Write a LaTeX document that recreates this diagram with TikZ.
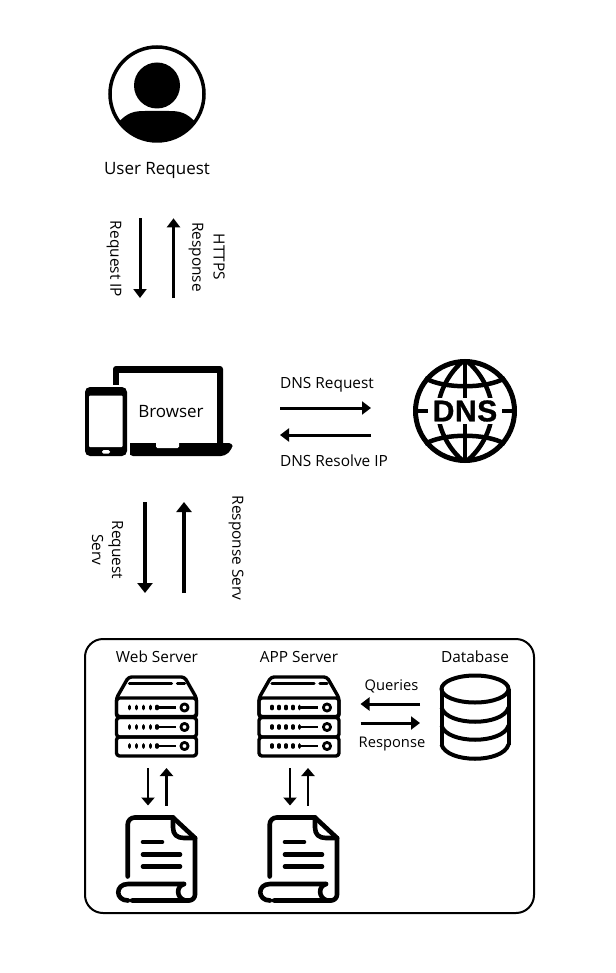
\documentclass[tikz,border=0pt]{standalone}
\usepackage{fontspec}
\setmainfont{Open Sans}
\newfontfamily\dnsfont[UprightFont=* Bold, FakeBold=1, LetterSpace=2]{Liberation Sans}
\usetikzlibrary{arrows.meta}
\usetikzlibrary{positioning}

\tikzset{
iconnode/.style={rectangle, inner sep=0pt, outer sep=0pt, minimum width=#1},
labelnode/.style={inner sep=0pt, font=\fontsize{17}{20}\selectfont},
smalllabel/.style={inner sep=0pt, font=\fontsize{15.4}{20}\selectfont},
arrowlabel/.style={inner sep=0pt, font=\fontsize{14.7}{20}\selectfont},
bigarrow/.style={line width=3.4pt, -{Triangle[width=15pt,length=10pt]}},
midarrow/.style={line width=3pt, -{Triangle[width=13pt,length=9pt]}},
thinarrow/.style={line width=2.3pt, -{Triangle[width=13pt,length=8pt]}},
pics/usericon/.style={code={
  \draw[line width=3.5pt] (0,0) circle (47);
  \fill (0,-8.5) circle (23);
  \begin{scope}
  \clip (0,0) circle (48);
  \fill (-40,30) .. controls (-30,18) and (-22,17) .. (-12,17) -- (12,17) .. controls (22,17) and (30,18) .. (40,30) -- (40,60) -- (-40,60) -- cycle;
  \end{scope}
}},
pics/browsericon/.style={code={
  % laptop
  \fill[rounded corners=3pt] (-46,42) -- (-46,-45) -- (64,-45) -- (64,42) -- cycle;
  \fill[white] (-40,-38.3) rectangle (58,32);
  \fill[rounded corners=4pt] (-30,32) -- (74,32) -- (73,38) -- (66,45) -- (-30,45) -- cycle;
  \fill[white, rounded corners=1.5pt] (-3,30) -- (-3,37) -- (20,37) -- (20,30) -- cycle;
  % phone
  \fill[white] (-76,-26) rectangle (-29,47);
  \fill[rounded corners=5pt] (-74,-24) rectangle (-32,45);
  \fill[white, rounded corners=1pt] (-70,-15.5) rectangle (-36.3,36);
  \fill[white, rounded corners=1.5pt] (-57,39) rectangle (-49,42.5);
}},
pics/dnsicon/.style={code={
  \draw[line width=5pt] (0,0) circle (49.5);
  \draw[line width=4.5pt] (0,-49) -- (0,49);
  \draw[line width=4.5pt] (-3,-49) .. controls (-19,-35) and (-27,-15) .. (-27,0) .. controls (-27,15) and (-19,35) .. (-3,49);
  \draw[line width=4.5pt] (3,-49) .. controls (19,-35) and (27,-15) .. (27,0) .. controls (27,15) and (19,35) .. (3,49);
  \draw[line width=4.5pt] (-40,-33) .. controls (-22,-22) and (22,-22) .. (40,-33);
  \draw[line width=4.5pt] (-40,33) .. controls (-22,22) and (22,22) .. (40,33);
  \fill[white] (-44,-13) rectangle (44,13);
  \draw[line width=4pt] (-48,0) -- (-37,0) (37,0) -- (48,0);
}},
pics/servericon/.style={code={
  \begin{scope}[line width=3.4pt, line join=round]
  \draw[rounded corners=3pt] (-40,-18.5) -- (-28,-39.5) -- (28,-39.5) -- (40,-18.5) -- (40,0) -- (-40,0) -- cycle;
  \draw[rounded corners=3pt] (-40,-18.5) rectangle (40,1);
  \draw[rounded corners=3pt] (-40,1) rectangle (40,20.5);
  \draw[rounded corners=3pt] (-40,20.5) rectangle (40,39.5);
  \draw[line cap=round] (-27,-33) -- (15,-33) (21,-33) -- (28,-33);
  \foreach \rowy in {-9,10.5,29.5} {
    \foreach \doty in {-27,-20,-13,-6,0.5}
      \draw[line width=3.2pt, line cap=round] (\doty,\rowy-1.2) -- (\doty,\rowy+1.2);
    \draw[line width=2.8pt] (0.5,\rowy) -- (19,\rowy);
    \draw[line width=2.8pt] (28,\rowy) circle (3.6);
  }
  \end{scope}
}},
pics/logicon/.style={code={
  \begin{scope}[line width=4.6pt, line cap=round, line join=round]
  \draw[rounded corners=7pt] (-29.3,17) -- (-29.3,-42) -- (16,-42);
  \draw (16,-42) -- (38,-21.5);
  \draw[rounded corners=6pt] (38,-21.5) -- (38,41) -- (-25,41);
  \draw (16,-42) -- (16,-32) .. controls (16,-25) and (20,-21.5) .. (27,-21.5) -- (38,-21.5);
  \draw (-14,-17.5) -- (5,-17.5);
  \draw (-14,-5) -- (23,-5);
  \draw (-14,7) -- (23,7);
  \draw (27,24.5) -- (-29,24.5) .. controls (-42,24.5) and (-42,41) .. (-29,41);
  \draw (27,24.5) .. controls (19,27) and (19,38) .. (28,41);
  \end{scope}
}},
pics/dbicon/.style={code={
  \begin{scope}[line width=4pt]
  \draw (0,-27.5) ellipse (33.5 and 13.5);
  \draw (-33.5,-27.5) -- (-33.5,28);
  \draw (33.5,-27.5) -- (33.5,28);
  \draw (-33.5,-9) .. controls (-28,10) and (28,10) .. (33.5,-9);
  \draw (-33.5,9) .. controls (-28,28) and (28,28) .. (33.5,9);
  \draw (-33.5,28) .. controls (-28,47) and (28,47) .. (33.5,28);
  \end{scope}
}},
}

\begin{document}
\begin{tikzpicture}[x=1pt, y=-1pt]
\useasboundingbox (0,0) rectangle (615,973);
%Nodes
\node[iconnode=97pt, minimum height=97pt] (user_node) at (157,94) {};
\pic at (157,94) {usericon};
\node[labelnode] (user_label_node) at (157,170) {User Request};
\node[iconnode=148pt, minimum height=90pt] (browser_node) at (159,411) {};
\pic at (159,411) {browsericon};
\node[labelnode] (browser_label_node) at (171,411.5) {Browser};
\node[iconnode=104pt, minimum height=104pt] (dns_node) at (465,411) {};
\pic at (465,411) {dnsicon};
\node[inner sep=0pt, font=\fontsize{30}{30}\dnsfont] (dns_label_node) at (465,411) {DNS};

\node[draw, line width=2pt, rounded corners=18pt, inner sep=0pt, minimum width=449pt, minimum height=274pt] (box_node) at (309.5,776) {};

\node[iconnode=83pt, minimum height=82pt] (web_server_node) at (156.5,716.5) {};
\pic at (156.5,716.5) {servericon};
\node[iconnode=83pt, minimum height=82pt] (app_server_node) at (299,716.5) {};
\pic at (299,716.5) {servericon};
\node[iconnode=80pt, minimum height=86pt] (web_log_node) at (157,859.5) {};
\pic at (157,859.5) {logicon};
\node[iconnode=80pt, minimum height=86pt] (app_log_node) at (299,859.5) {};
\pic at (299,859.5) {logicon};
\node[iconnode=70pt, minimum height=86pt] (db_node) at (475,716.5) {};
\pic at (475,716.5) {dbicon};

\node[smalllabel] (web_label_node) at (157,657) {Web Server};
\node[smalllabel] (app_label_node) at (299,657) {APP Server};
\node[smalllabel] (db_label_node) at (475,657) {Database};

%Labels
\node[smalllabel, rotate=-90] (request_ip_node) at (114,259) {Request IP};
\node[smalllabel, rotate=-90] (response_node) at (196,257) {Response};
\node[smalllabel, rotate=-90] (https_node) at (219,257) {HTTPS};
\node[smalllabel] (dns_request_node) at (327,384.5) {DNS Request};
\node[smalllabel] (dns_resolve_node) at (334,460.5) {DNS Resolve IP};
\node[smalllabel, rotate=-90, align=center] (request_serv_node) at (107.5,550) {Request\\Serv};
\node[smalllabel, rotate=-90] (response_serv_node) at (236,548) {Response Serv};
\node[arrowlabel] (queries_node) at (391.5,686) {Queries};
\node[arrowlabel] (response_db_node) at (392,744.5) {Response};

%Lines
\draw[midarrow, shorten <=40pt, shorten >=68pt] ([xshift=-17pt]user_label_node.south) -- ([xshift=-19pt]browser_node.north);
\draw[midarrow, shorten <=68pt, shorten >=40pt] ([xshift=14.5pt]browser_node.north) -- ([xshift=16.5pt]user_label_node.south);
\draw[midarrow, shorten <=47pt, shorten >=42pt] ([yshift=3pt]browser_node.east) -- ([yshift=3pt]dns_node.west);
\draw[midarrow, shorten <=42pt, shorten >=47pt] ([yshift=-24pt]dns_node.west) -- ([yshift=-24pt]browser_node.east);
\draw[bigarrow, shorten <=46pt, shorten >=45pt] ([xshift=-14pt]browser_node.south) -- ([xshift=-164.5pt]box_node.north);
\draw[bigarrow, shorten <=45pt, shorten >=46pt] ([xshift=-125.5pt]box_node.north) -- ([xshift=25pt]browser_node.south);
\draw[thinarrow, shorten <=10.5pt, shorten >=11pt] ([xshift=-8.5pt]web_server_node.south) -- ([xshift=-9pt]web_log_node.north);
\draw[thinarrow, shorten <=11pt, shorten >=10.5pt] ([xshift=9.5pt]web_log_node.north) -- ([xshift=10pt]web_server_node.south);
\draw[thinarrow, shorten <=10.5pt, shorten >=11pt] ([xshift=-9pt]app_server_node.south) -- ([xshift=-9pt]app_log_node.north);
\draw[thinarrow, shorten <=11pt, shorten >=10.5pt] ([xshift=9pt]app_log_node.north) -- ([xshift=9pt]app_server_node.south);
\draw[midarrow, shorten <=20pt, shorten >=20pt] ([yshift=12.5pt]db_node.west) -- ([yshift=12.5pt]app_server_node.east);
\draw[midarrow, shorten <=20pt, shorten >=20pt] ([yshift=-6.5pt]app_server_node.east) -- ([yshift=-6.5pt]db_node.west);
\end{tikzpicture}
\end{document}
